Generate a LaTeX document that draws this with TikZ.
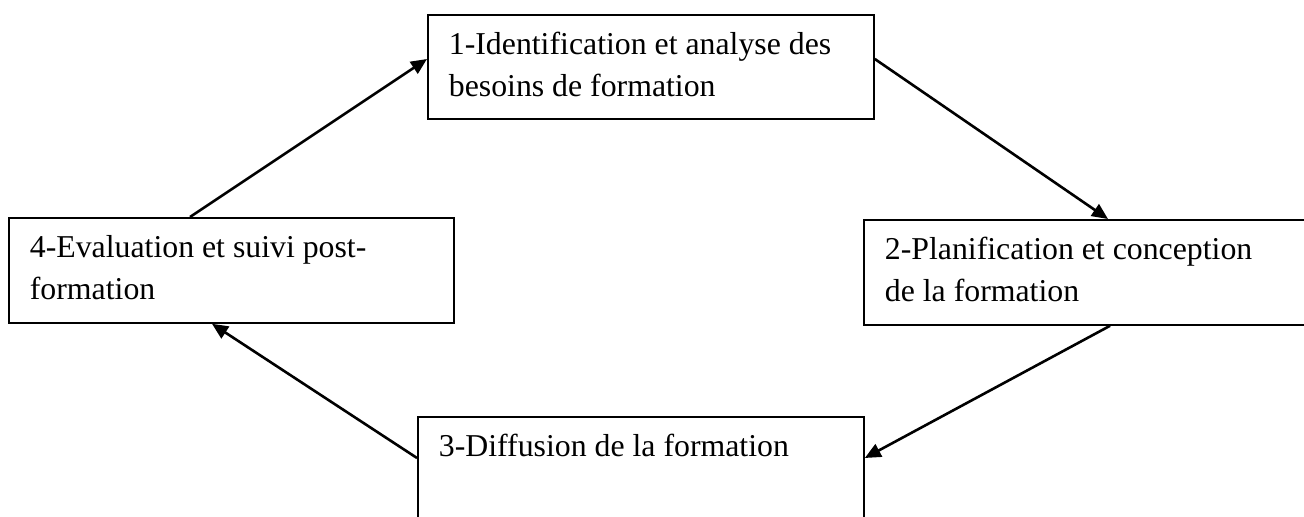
\documentclass[tikz,border=0pt]{standalone}
\usepackage{fontspec}
\setmainfont{Liberation Serif}
\usetikzlibrary{arrows.meta,calc}
\newcommand{\boxcontent}[3]{\begin{minipage}[t][#2][t]{#1}\fontsize{15.9pt}{21pt}\selectfont\raggedright\leftskip=10.5pt\rule{0pt}{20pt}#3\end{minipage}}
\tikzset{
  stagebox/.style={draw=black, line width=0.9pt, inner sep=0pt, anchor=north west},
  flow/.style={draw=black, line width=1.3pt, -{Triangle[length=8pt,width=7pt]}}
}
\begin{document}
\begin{tikzpicture}[x=0.5pt,y=-0.5pt]
\useasboundingbox (0,0) rectangle (1304,517);
\node[stagebox] (n1) at (427,14) {\boxcontent{223pt}{52pt}{1-Identification et analyse des\\besoins de formation}};
\node[stagebox] (n2) at (863,219) {\boxcontent{224pt}{52.5pt}{2-Planification et conception\\de la formation}};
\node[stagebox] (n3) at (417,416) {\boxcontent{223pt}{60pt}{3-Diffusion de la formation}};
\node[stagebox] (n4) at (8,217) {\boxcontent{222.5pt}{52.5pt}{4-Evaluation et suivi post-\\formation}};
\coordinate (a41s) at ($(n4.north west)+(182,0)$);
\coordinate (a41e) at ($(n1.north west)+(0,45)$);
\coordinate (a12s) at ($(n1.north east)+(0,45)$);
\coordinate (a12e) at ($(n2.north west)+(245,0)$);
\coordinate (a23s) at ($(n2.south west)+(247,0)$);
\coordinate (a23e) at ($(n3.north east)+(0,42)$);
\coordinate (a34s) at ($(n3.north west)+(0,42)$);
\coordinate (a34e) at ($(n4.south west)+(204,0)$);
\draw[flow] (a41s) -- (a41e);
\draw[flow] (a12s) -- (a12e);
\draw[flow] (a23s) -- (a23e);
\draw[flow] (a34s) -- (a34e);
\end{tikzpicture}
\end{document}
